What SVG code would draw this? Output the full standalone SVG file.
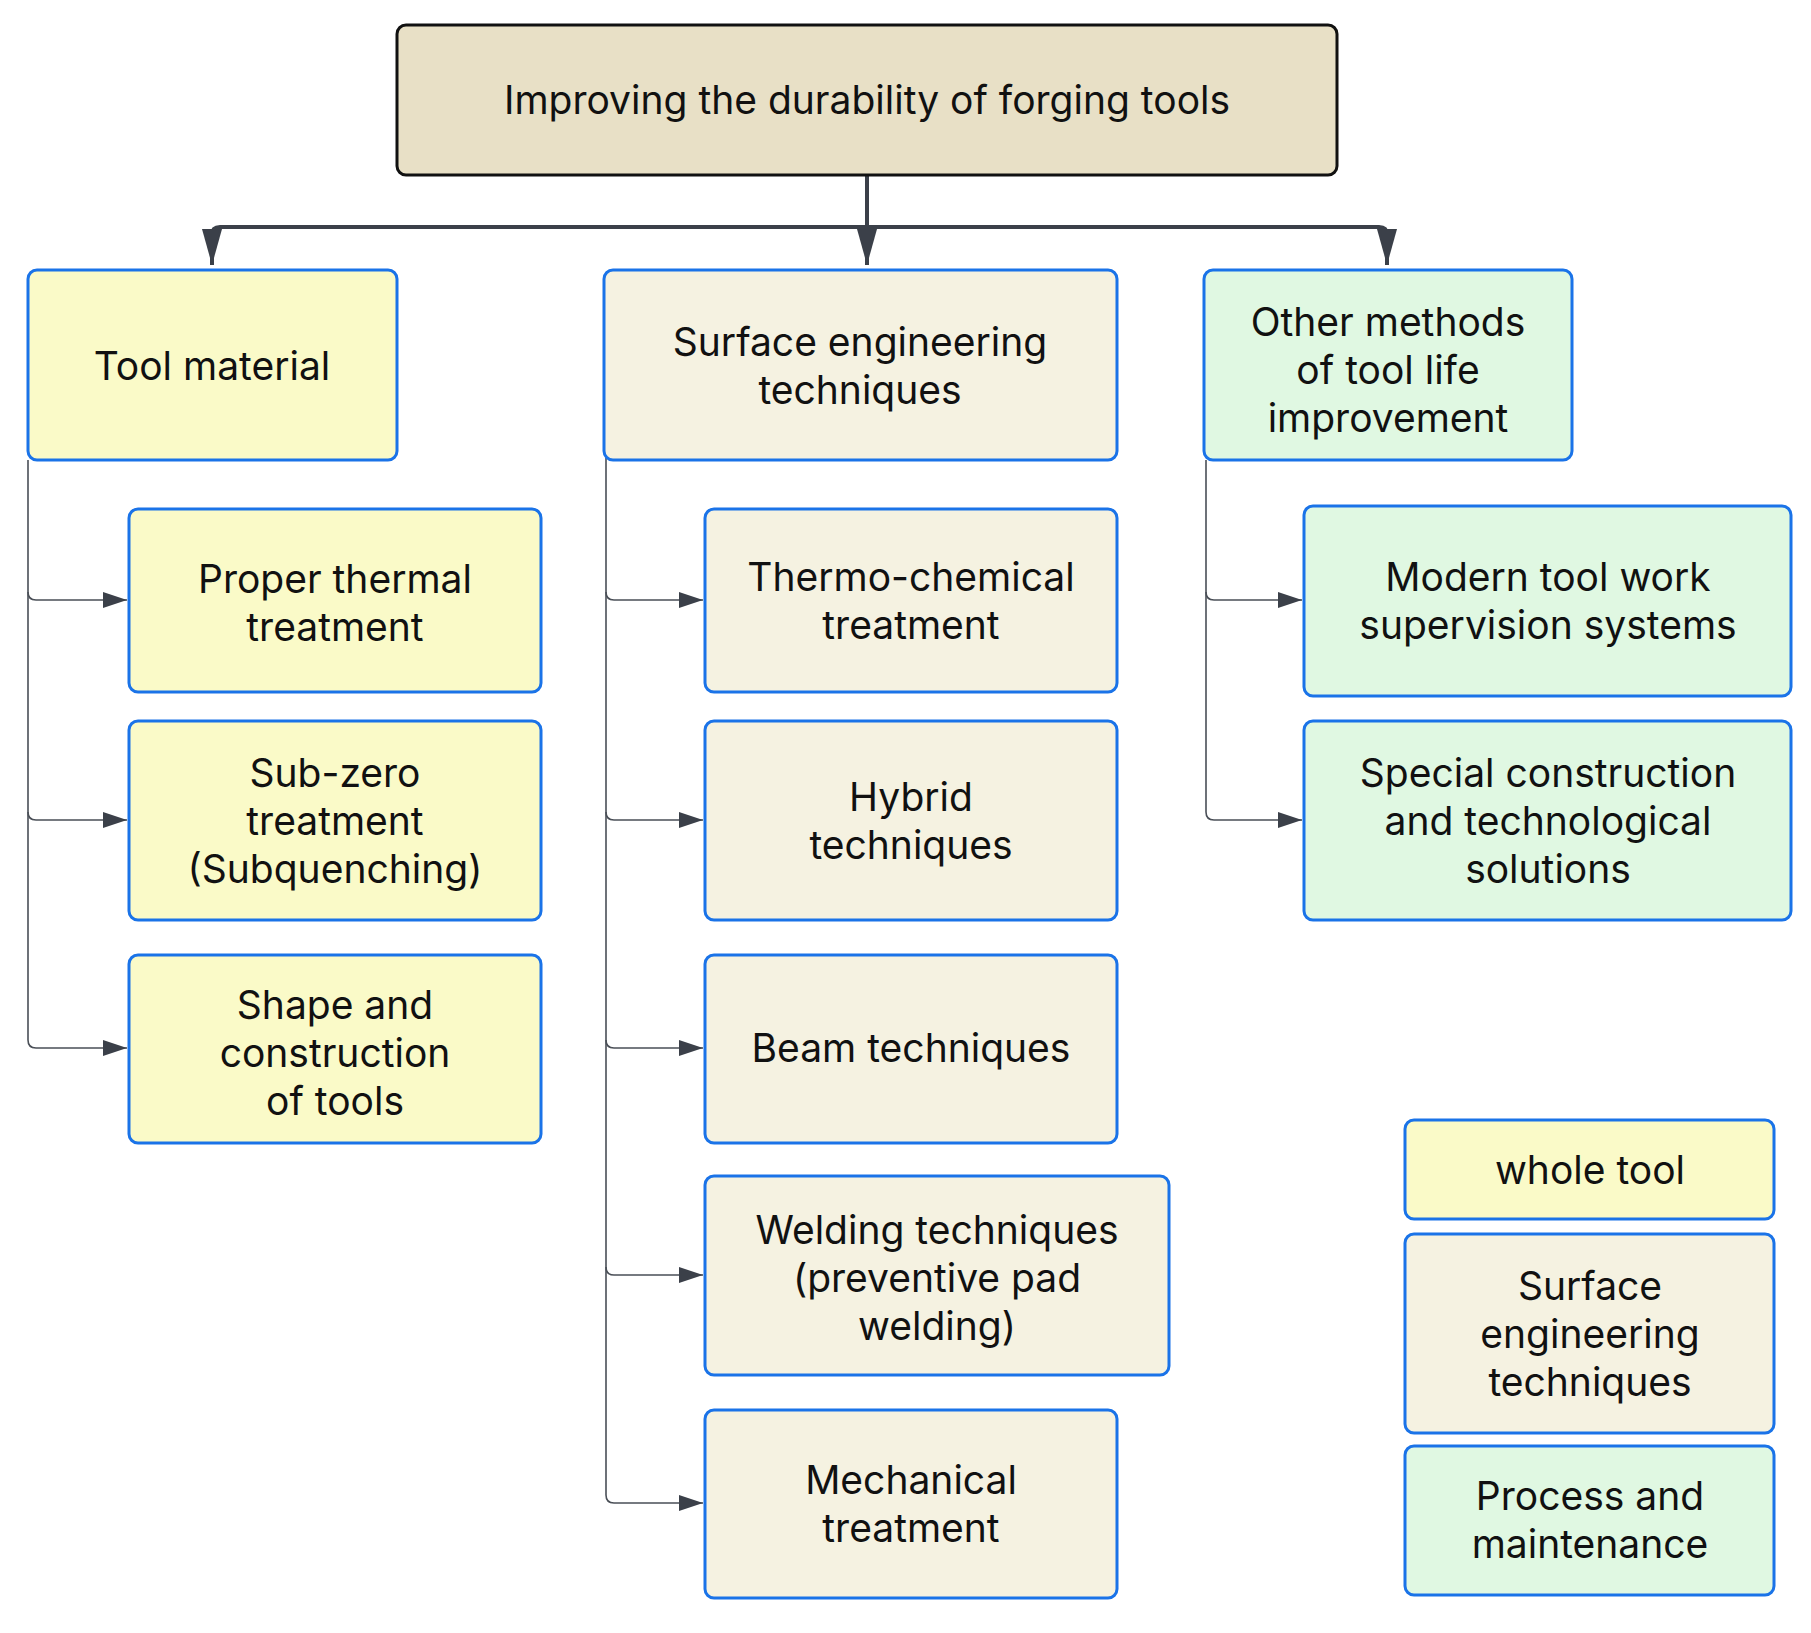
<svg xmlns="http://www.w3.org/2000/svg" width="1811" height="1633" viewBox="0 0 1811 1633">
<style>
.n rect{stroke:#1a73e8;stroke-width:3}
.y rect{fill:#fafac8}.b rect{fill:#f5f2e1}.g rect{fill:#e0f8e2}
text{font-family:Inter,"Noto Sans",sans-serif;font-size:39px;fill:#111;text-anchor:middle}
.c path{fill:none;stroke:#4a4f57;stroke-width:1.6}
.c .m{stroke:#3b4049;stroke-width:4}
</style>
<defs>
<marker id="a" viewBox="0 0 10 10" refX="10" refY="5" markerWidth="6" markerHeight="6" orient="auto" markerUnits="userSpaceOnUse"><path d="M0,0L10,5L0,10z" fill="#3b4049"/></marker>
<marker id="s" viewBox="0 0 10 10" refX="10" refY="5" markerWidth="24" markerHeight="16" orient="auto" markerUnits="userSpaceOnUse" preserveAspectRatio="none"><path d="M0,0L10,5L0,10z" fill="#3b4049"/></marker>
<marker id="t" viewBox="0 0 10 10" refX="10" refY="5" markerWidth="36" markerHeight="20" orient="auto" markerUnits="userSpaceOnUse" preserveAspectRatio="none"><path d="M0,0L10,5L0,10z" fill="#3b4049"/></marker>
</defs>
<g class="c">
<path class="m" d="M867,175V227"/>
<path class="m" d="M867,227H220Q212,227 212,235V265" marker-end="url(#t)"/>
<path class="m" d="M867,227V265" marker-end="url(#t)"/>
<path class="m" d="M867,227H1379Q1387,227 1387,235V265" marker-end="url(#t)"/>
<path d="M28,460V592Q28,600 36,600H127" marker-end="url(#s)"/>
<path d="M28,592V812Q28,820 36,820H127" marker-end="url(#s)"/>
<path d="M28,812V1040Q28,1048 36,1048H127" marker-end="url(#s)"/>
<path d="M606,458V592Q606,600 614,600H703" marker-end="url(#s)"/>
<path d="M606,592V812Q606,820 614,820H703" marker-end="url(#s)"/>
<path d="M606,812V1040Q606,1048 614,1048H703" marker-end="url(#s)"/>
<path d="M606,1040V1267Q606,1275 614,1275H703" marker-end="url(#s)"/>
<path d="M606,1267V1495Q606,1503 614,1503H703" marker-end="url(#s)"/>
<path d="M1206,460V592Q1206,600 1214,600H1302" marker-end="url(#s)"/>
<path d="M1206,592V812Q1206,820 1214,820H1302" marker-end="url(#s)"/>
</g>
<g id="root"><rect x="397" y="25" width="940" height="150" rx="9" fill="#e8e0c6" stroke="#111" stroke-width="3"/><text x="867" y="114">Improving the durability of forging tools</text></g>
<g id="tool" class="n y"><rect x="28" y="270" width="369" height="190" rx="9"/><text x="212" y="380">Tool material</text></g>
<g id="surf" class="n b"><rect x="604" y="270" width="513" height="190" rx="9"/><text x="860" y="356">Surface engineering</text><text x="860" y="404">techniques</text></g>
<g id="other" class="n g"><rect x="1204" y="270" width="368" height="190" rx="9"/><text x="1388" y="336">Other methods</text><text x="1388" y="384">of tool life</text><text x="1388" y="432">improvement</text></g>
<g id="thermal" class="n y"><rect x="129" y="509" width="412" height="183" rx="9"/><text x="335" y="593">Proper thermal</text><text x="335" y="641">treatment</text></g>
<g id="subzero" class="n y"><rect x="129" y="721" width="412" height="199" rx="9"/><text x="335" y="787">Sub-zero</text><text x="335" y="835">treatment</text><text x="335" y="883">(Subquenching)</text></g>
<g id="shape" class="n y"><rect x="129" y="955" width="412" height="188" rx="9"/><text x="335" y="1019">Shape and</text><text x="335" y="1067">construction</text><text x="335" y="1115">of tools</text></g>
<g id="thermo" class="n b"><rect x="705" y="509" width="412" height="183" rx="9"/><text x="911" y="591">Thermo-chemical</text><text x="911" y="639">treatment</text></g>
<g id="hybrid" class="n b"><rect x="705" y="721" width="412" height="199" rx="9"/><text x="911" y="811">Hybrid</text><text x="911" y="859">techniques</text></g>
<g id="beam" class="n b"><rect x="705" y="955" width="412" height="188" rx="9"/><text x="911" y="1062">Beam techniques</text></g>
<g id="weld" class="n b"><rect x="705" y="1176" width="464" height="199" rx="9"/><text x="937" y="1244">Welding techniques</text><text x="937" y="1292">(preventive pad</text><text x="937" y="1340">welding)</text></g>
<g id="mech" class="n b"><rect x="705" y="1410" width="412" height="188" rx="9"/><text x="911" y="1494">Mechanical</text><text x="911" y="1542">treatment</text></g>
<g id="modern" class="n g"><rect x="1304" y="506" width="487" height="190" rx="9"/><text x="1548" y="591">Modern tool work</text><text x="1548" y="639">supervision systems</text></g>
<g id="special" class="n g"><rect x="1304" y="721" width="487" height="199" rx="9"/><text x="1548" y="787">Special construction</text><text x="1548" y="835">and technological</text><text x="1548" y="883">solutions</text></g>
<g id="leg1" class="n y"><rect x="1405" y="1120" width="369" height="99" rx="9"/><text x="1590" y="1184">whole tool</text></g>
<g id="leg2" class="n b"><rect x="1405" y="1234" width="369" height="199" rx="9"/><text x="1590" y="1300">Surface</text><text x="1590" y="1348">engineering</text><text x="1590" y="1396">techniques</text></g>
<g id="leg3" class="n g"><rect x="1405" y="1446" width="369" height="149" rx="9"/><text x="1590" y="1510">Process and</text><text x="1590" y="1558">maintenance</text></g>
</svg>
